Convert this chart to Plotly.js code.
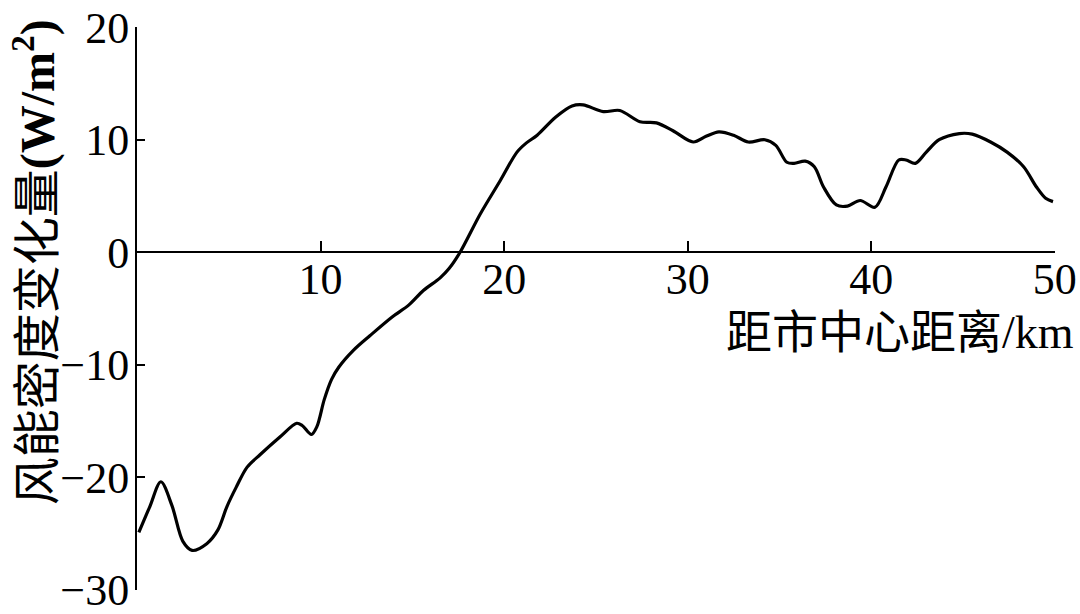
<!DOCTYPE html>
<html>
<head>
<meta charset="utf-8">
<script src="https://cdn.plot.ly/plotly-3.0.1.min.js"></script>
<style>html,body{margin:0;padding:0;background:#fff;}#chart{width:1080px;height:614px;}</style>
</head>
<body>
<div id="chart"></div>
<script>
const distKm = [0.1,0.7,1.3,1.9,2.5,3.0,3.8,4.4,4.9,
  5.4,6.0,6.7,7.8,8.7,9.0,9.5,9.8,10.2,10.6,
  11.0,11.8,12.7,13.9,14.8,15.6,16.5,17.0,17.6,18.7,
  19.8,20.7,21.2,21.8,22.8,23.7,24.3,25.4,26.3,27.4,
  28.3,29.2,30.3,31.0,31.7,32.5,33.3,34.2,34.8,35.4,
  35.8,36.4,36.9,37.4,38.1,38.7,39.4,40.2,40.8,41.5,
  41.9,42.4,43.0,43.7,44.8,45.5,46.5,47.4,48.3,49.0,
  49.5,49.9];
const windDelta = [-24.9,-22.6,-20.4,-22.5,-25.7,-26.5,-25.9,-24.7,-22.6,
  -20.9,-19.1,-18.0,-16.4,-15.2,-15.4,-16.2,-15.5,-13.1,-11.3,
  -10.2,-8.7,-7.4,-5.75,-4.7,-3.4,-2.3,-1.45,0,3.4,
  6.4,8.9,9.7,10.4,12.0,13.0,13.1,12.5,12.6,11.6,
  11.5,10.8,9.8,10.3,10.7,10.4,9.8,10.0,9.5,8.0,
  7.9,8.1,7.6,5.8,4.2,4.1,4.6,4.0,5.8,8.2,
  8.2,7.9,8.9,10.0,10.55,10.5,9.8,8.9,7.6,5.8,
  4.8,4.5];
const xTicks = [10,20,30,40,50];
const yTicks = [-30,-20,-10,0,10,20];
const yTickText = ["\u221230","\u221220","\u221210","0","10","20"];
const xTitle = "距市中心距离/km";
const yTitle = "风能密度变化量<b>(W/m<sup>2</sup>)</b>";

const FONT = 'Liberation Serif, "Noto Sans CJK SC", serif';

const trace = {
  x: distKm, y: windDelta, type: 'scatter', mode: 'lines',
  line: {color: '#000', width: 3.2, shape: 'spline', smoothing: 0.9},
  hoverinfo: 'skip', cliponaxis: false
};

const layout = {
  width: 1080, height: 614,
  margin: {l: 137, r: 25, t: 27, b: 24, pad: 0},
  paper_bgcolor: '#fff', plot_bgcolor: '#fff',
  showlegend: false,
  font: {family: FONT, color: '#000', size: 44},
  xaxis: {
    range: [0, 50.01], anchor: 'free', position: 0.6,
    showline: true, linecolor: '#000', linewidth: 2,
    ticks: 'inside', ticklen: 10, tickwidth: 2, tickcolor: '#000',
    tickmode: 'array', tickvals: xTicks,
    ticklabelstandoff: -12, ticklabeloverflow: 'allow',
    showgrid: false, zeroline: false,
    tickfont: {family: FONT, size: 44, color: '#000'}
  },
  yaxis: {
    range: [-30.02, 20.02],
    showline: true, linecolor: '#000', linewidth: 2,
    ticks: 'inside', ticklen: 8, tickwidth: 2, tickcolor: '#000',
    tickmode: 'array', tickvals: yTicks, ticktext: yTickText,
    ticklabelstandoff: -3, ticklabeloverflow: 'allow',
    showgrid: false, zeroline: false,
    tickfont: {family: FONT, size: 44, color: '#000'}
  },
  annotations: [
    {text: xTitle, xref: 'paper', yref: 'paper', x: 1.0225, y: 0.4565,
     xanchor: 'right', yanchor: 'middle', showarrow: false,
     font: {family: FONT, size: 46, color: '#000'}},
    {text: yTitle, xref: 'paper', yref: 'paper', x: 0, y: 0.582,
     xshift: -103, xanchor: 'center', yanchor: 'middle', showarrow: false,
     textangle: -90,
     font: {family: FONT, size: 48, color: '#000'}}
  ]
};

Plotly.newPlot('chart', [trace], layout, {displayModeBar: false, staticPlot: true});
</script>
</body>
</html>
